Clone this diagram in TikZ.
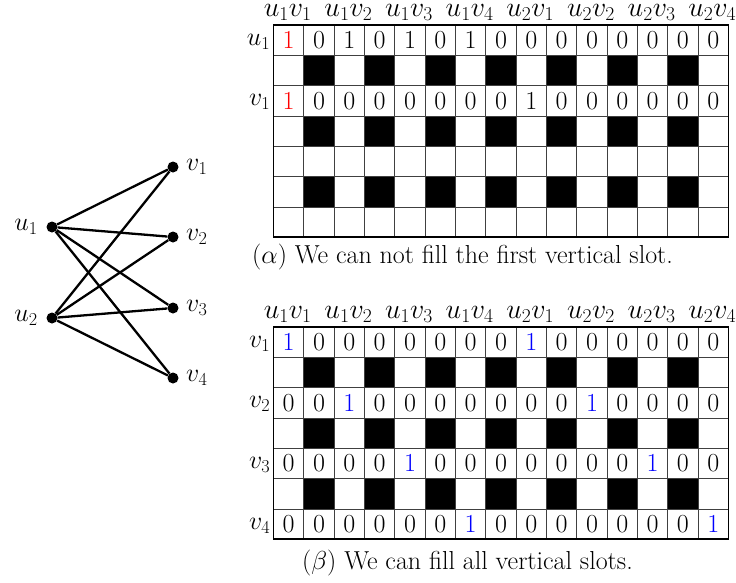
\RequirePackage{fix-cm}
\documentclass[tikz,border=0pt]{standalone}
\begin{document}
\tikzset{
  dot/.style={circle,fill=black,inner sep=0pt,minimum size=11pt},
  lbl/.style={font=\fontsize{26}{30}\selectfont,inner sep=0pt},
  hdr/.style={font=\fontsize{28}{32}\selectfont,inner sep=0pt},
  gedge/.style={line width=2.3pt},
  innerline/.style={line width=0.9pt,black!75},
  outerline/.style={line width=1.8pt},
}
\def\X{273.5}
\def\cs{30.33}
% grid frame with black cells
\newcommand\gridframe[1]{%
  \foreach \r in {1,3,5} \foreach \c in {1,3,...,13}
    \fill[black] (\X+\c*\cs,#1+\r*\cs) rectangle ++(\cs,\cs);
  \foreach \i in {1,...,14} \draw[innerline] (\X+\i*\cs,#1) -- ++(0,7*\cs);
  \foreach \j in {1,...,6} \draw[innerline] (\X,#1+\j*\cs) -- ++(15*\cs,0);
  \draw[outerline] (\X,#1) rectangle ++(15*\cs,7*\cs);
  \foreach \lab [count=\k from 0] in {u_1v_1,u_1v_2,u_1v_3,u_1v_4,u_2v_1,u_2v_2,u_2v_3,u_2v_4}
    \node[hdr,anchor=base] (h#1-\k) at (\X+2*\k*\cs+0.5*\cs-1,#1-9) {$\lab$};
}
% one row of digits: #1 top, #2 row index, #3 list
\newcommand\digitrow[3]{%
  \foreach \v/\col [count=\c from 0] in {#3}
    \node[lbl,anchor=base,text=\col] (d#1-#2-\c) at (\X+\c*\cs+0.5*\cs,#1+#2*\cs+0.5*\cs+8.5) {\v};
}
\newcommand\rowlabel[3]{%
  \node[lbl,anchor=base east] (r#1-#2) at (\X-3,#1+#2*\cs+0.5*\cs+5) {$#3$};
}
\begin{tikzpicture}[x=1pt,y=-1pt]
\useasboundingbox (0,0) rectangle (736,582);
% bipartite graph
\node[dot] (u1) at (52,227) {};
\node[dot] (u2) at (52,318) {};
\node[dot] (v1) at (173,167) {};
\node[dot] (v2) at (173,237) {};
\node[dot] (v3) at (173,308) {};
\node[dot] (v4) at (173,378) {};
\node[lbl,anchor=east] (lu1) at ([xshift=-14pt]u1.center) {$u_1$};
\node[lbl,anchor=east] (lu2) at ([xshift=-14pt]u2.center) {$u_2$};
\foreach \i in {1,...,4}
  \node[lbl,anchor=west] (lv\i) at ([xshift=13pt]v\i.center) {$v_\i$};
\foreach \u in {1,2} \foreach \v in {1,...,4}
  \draw[gedge] (u\u) -- (v\v);
% alpha grid
\gridframe{25}
\rowlabel{25}{0}{u_1}
\rowlabel{25}{2}{v_1}
\digitrow{25}{0}{1/red,0/black,1/black,0/black,1/black,0/black,1/black,0/black,0/black,0/black,0/black,0/black,0/black,0/black,0/black}
\digitrow{25}{2}{1/red,0/black,0/black,0/black,0/black,0/black,0/black,0/black,1/black,0/black,0/black,0/black,0/black,0/black,0/black}
\node[lbl,anchor=base west] (capa) at (252,263) {$(\alpha)$ We can not fill the first vertical slot.};
% beta grid
\gridframe{327}
\rowlabel{327}{0}{v_1}
\rowlabel{327}{2}{v_2}
\rowlabel{327}{4}{v_3}
\rowlabel{327}{6}{v_4}
\digitrow{327}{0}{1/blue,0/black,0/black,0/black,0/black,0/black,0/black,0/black,1/blue,0/black,0/black,0/black,0/black,0/black,0/black}
\digitrow{327}{2}{0/black,0/black,1/blue,0/black,0/black,0/black,0/black,0/black,0/black,0/black,1/blue,0/black,0/black,0/black,0/black}
\digitrow{327}{4}{0/black,0/black,0/black,0/black,1/blue,0/black,0/black,0/black,0/black,0/black,0/black,0/black,1/blue,0/black,0/black}
\digitrow{327}{6}{0/black,0/black,0/black,0/black,0/black,0/black,1/blue,0/black,0/black,0/black,0/black,0/black,0/black,0/black,1/blue}
\node[lbl,anchor=base west] (capb) at (302,569) {$(\beta)$ We can fill all vertical slots.};
\end{tikzpicture}
\end{document}
